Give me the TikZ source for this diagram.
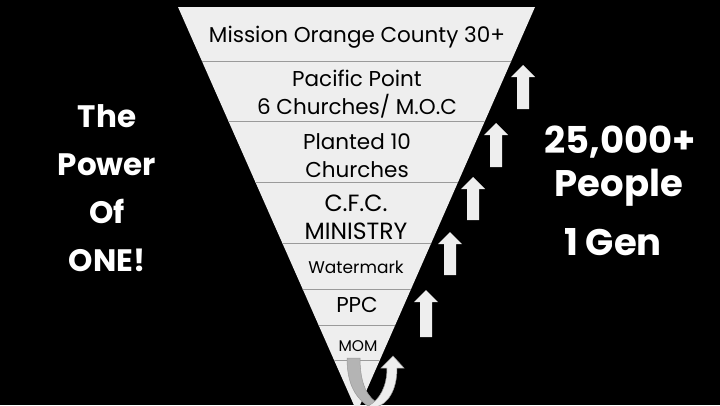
\documentclass[tikz,border=0pt]{standalone}
\usepackage{fontspec}
\setmainfont{Poppins}
\definecolor{bandfill}{HTML}{EEEEEE}
\definecolor{bandline}{HTML}{9A9A9A}
\definecolor{turngray}{HTML}{B4B4B4}
\tikzset{
  band/.style={font=\fontsize{21.5}{28}\selectfont,text=black,align=center,inner sep=0pt},
  bigword/.style={font=\bfseries\fontsize{31}{48}\selectfont,text=white,align=center,inner sep=0pt},
  countword/.style={font=\bfseries\fontsize{37}{40}\selectfont,text=white,inner sep=0pt},
  uparrow/.style={fill=bandfill,line join=miter}
}
\begin{document}
\begin{tikzpicture}[x=1pt,y=-1pt]
\fill[black] (0,0) rectangle (720,405);
\useasboundingbox (0,0) rectangle (720,405);
\clip (0,0) rectangle (720,405);
% funnel and its bands
\fill[bandfill] (178,7) -- (535,7) -- (357,412) -- cycle;
\begin{scope}
  \clip (178,7) -- (535,7) -- (357,412) -- cycle;
  \foreach \y in {61,121,182,243,289,325,360}
    \draw[bandline,line width=1pt] (170,\y) -- (545,\y);
\end{scope}
\node[band] (moc) at (357,37) {Mission Orange County 30+};
\node[band] (pacific) at (357,94) {Pacific Point\\6 Churches/ M.O.C};
\node[band] (planted) at (357,156) {Planted 10\\Churches};
\node[band,font=\fontsize{23.5}{28}\selectfont] (cfc) at (356,217) {C.F.C.\\MINISTRY};
\node[band,font=\fontsize{17}{20}\selectfont] (watermark) at (356,267) {Watermark};
\node[band,font=\fontsize{21.5}{24}\selectfont] (ppc) at (357,305) {PPC};
\node[band,font=\fontsize{15.5}{16}\selectfont] (mom) at (358,346) {MOM};
% growth arrows
\foreach \x/\top/\bot in {523/65/109,496/123/167,473/177/220,450/232/275,426/290/337}
  \fill[uparrow] (\x-6,\bot) -- (\x-6,\top+12) -- (\x-12,\top+12) -- (\x,\top)
    -- (\x+12,\top+12) -- (\x+6,\top+12) -- (\x+6,\bot) -- cycle;
% u-turn at the bottom
\filldraw[fill=turngray,draw=bandline,line width=0.5pt] (347,358) -- (360,358)
  .. controls (360,385) and (368,398) .. (379,404) -- (368,406)
  .. controls (353,396) and (347,380) .. cycle;
\filldraw[fill=bandfill,draw=bandline,line width=0.5pt] (368,406)
  .. controls (380,400) and (387,386) .. (387,368)
  -- (381,368) -- (393,356) -- (404,368) -- (397,368)
  .. controls (397,390) and (388,404) .. (376,407) -- cycle;
% side texts
\node[bigword] (power) at (107,188) {The\\Power\\Of\\ONE!};
\node[countword] (count) at (620,142) {25,000+};
\node[countword] (people) at (619,188) {People};
\node[countword] (gen) at (613,242) {1 Gen};
\end{tikzpicture}
\end{document}
